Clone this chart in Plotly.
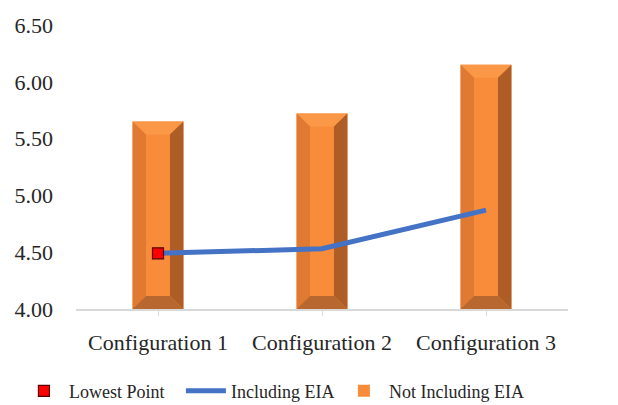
import plotly.graph_objects as go

categories = ["Configuration 1", "Configuration 2", "Configuration 3"]
not_including_eia = [5.65, 5.72, 6.15]
including_eia = [4.49, 4.53, 4.87]
lowest_point_idx = 0
y_ticks = [4.0, 4.5, 5.0, 5.5, 6.0, 6.5]

FONT = "Liberation Serif"
BASE = 4.0
BAR_W = 0.31
BEVEL_X = 0.082
BEVEL_Y = 0.114

x_pos = list(range(len(categories)))

fig = go.Figure()

# plain bar body (also supplies the legend entry)
fig.add_trace(go.Bar(
    x=x_pos, y=not_including_eia, width=BAR_W,
    marker=dict(color="#F88C3A", line=dict(width=0)),
    name="Not Including EIA", legendrank=3, legendwidth=150, hoverinfo="skip",
))

# bevel facets drawn on top of each bar
def facets(kind):
    xs, ys = [], []
    h = BAR_W / 2
    for c, v in zip(x_pos, not_including_eia):
        if kind == "top":
            px = [c - h, c + h, c + h - BEVEL_X, c - h + BEVEL_X, c - h]
            py = [v, v, v - BEVEL_Y, v - BEVEL_Y, v]
        elif kind == "left":
            px = [c - h, c - h + BEVEL_X, c - h + BEVEL_X, c - h, c - h]
            py = [v, v - BEVEL_Y, BASE + BEVEL_Y, BASE, v]
        elif kind == "right":
            px = [c + h, c + h - BEVEL_X, c + h - BEVEL_X, c + h, c + h]
            py = [v, v - BEVEL_Y, BASE + BEVEL_Y, BASE, v]
        else:
            px = [c - h, c + h, c + h - BEVEL_X, c - h + BEVEL_X, c - h]
            py = [BASE, BASE, BASE + BEVEL_Y, BASE + BEVEL_Y, BASE]
        xs += px + [None]
        ys += py + [None]
    return xs, ys

facet_colors = {"top": "#FA9848", "left": "#E07932", "right": "#AE5D27", "bottom": "#B8682F"}
for kind, col in facet_colors.items():
    fx, fy = facets(kind)
    fig.add_trace(go.Scatter(
        x=fx, y=fy, mode="lines", fill="toself", fillcolor=col,
        line=dict(width=0, color=col), showlegend=False, hoverinfo="skip",
    ))

fig.add_trace(go.Scatter(
    x=x_pos, y=including_eia, mode="lines",
    line=dict(color="#4472C4", width=5),
    name="Including EIA", legendrank=2, legendwidth=103,
))

fig.add_trace(go.Scatter(
    x=[x_pos[lowest_point_idx]], y=[including_eia[lowest_point_idx]], mode="markers",
    marker=dict(symbol="square", size=11, color="#FF0000", line=dict(color="#5A0000", width=1.2)),
    name="Lowest Point", legendrank=1, legendwidth=107,
))

fig.update_layout(
    width=618, height=405,
    margin=dict(l=76, r=50, t=25, b=96, autoexpand=False),
    paper_bgcolor="white", plot_bgcolor="white",
    font=dict(family=FONT, color="#262626"),
    showlegend=True,
    legend=dict(
        orientation="h",
        x=-0.116, xanchor="left", y=-0.289, yanchor="middle",
        font=dict(size=18, family=FONT, color="#262626"),
        itemwidth=40, traceorder="normal",
        entrywidthmode="pixels",
    ),
    xaxis=dict(
        range=[-0.5, 2.5], tickvals=x_pos, ticktext=categories,
        tickfont=dict(size=22, family=FONT, color="#262626"),
        showgrid=False, zeroline=False,
        showline=True, linecolor="#D9D9D9", linewidth=1.5,
        ticks="outside", ticklen=5, tickcolor="#D9D9D9",
        ticklabelstandoff=8,
    ),
    yaxis=dict(
        range=[4.0, 6.5], tickvals=y_ticks, tickformat=".2f",
        tickfont=dict(size=22, family=FONT, color="#262626"),
        showgrid=False, zeroline=False, showline=False,
        ticks="", ticklabelstandoff=22,
    ),
)

fig.write_html("out.html")
